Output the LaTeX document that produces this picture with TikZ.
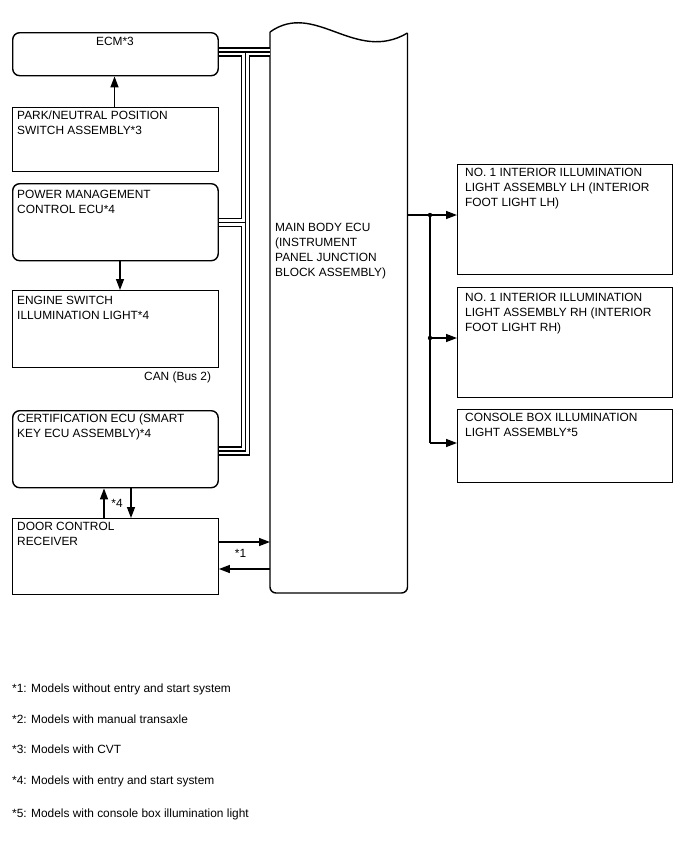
\documentclass[tikz,border=0pt]{standalone}
\usepackage{fontspec}
\setmainfont{Liberation Sans}
\usetikzlibrary{arrows.meta}
\begin{document}
\begin{tikzpicture}[x=1pt,y=-1pt,
  box/.style={draw, line width=1.4pt, inner sep=0pt, anchor=north west},
  rbox/.style={box, rounded corners=7pt},
  txt/.style={inner sep=0pt, anchor=north west, align=left, font=\fontsize{11.9}{15}\selectfont},
  lbl/.style={inner sep=0pt, font=\fontsize{11.9}{15}\selectfont},
  arr/.style={-{Triangle[length=11pt,width=8pt]}, line width=1.4pt},
  wire/.style={line width=1.4pt},
  bus/.style={line width=9.6pt, line join=miter,
    postaction={draw, white, line width=6.2pt},
    postaction={draw, black, line width=1.6pt}}]
\useasboundingbox (0,0) rectangle (688,852);

% left column boxes
\node[rbox, minimum width=205.5pt, minimum height=43pt] (ecm) at (12,32) {};
\node[box,  minimum width=205.5pt, minimum height=64pt] (park) at (12,107) {};
\node[rbox, minimum width=205.5pt, minimum height=77pt] (power) at (12,183) {};
\node[box,  minimum width=205.5pt, minimum height=77pt] (engine) at (12,290) {};
\node[rbox, minimum width=205.5pt, minimum height=77pt] (cert) at (12,410) {};
\node[box,  minimum width=205.5pt, minimum height=76pt] (door) at (12,518) {};

% right column boxes
\node[box, minimum width=215pt, minimum height=110pt] (lh) at (457,164) {};
\node[box, minimum width=215pt, minimum height=110pt] (rh) at (457,287) {};
\node[box, minimum width=215pt, minimum height=73pt] (console) at (457,409) {};

% main body ECU
\node[inner sep=0pt, minimum width=137.5pt, minimum height=561pt, anchor=north west] (mbe) at (270,32) {};
\draw[wire, rounded corners=6pt] (270,32) -- (270,593) -- (407.5,593) -- (407.5,33);
\draw[wire] (270,32) .. controls (315,0) and (355,64) .. (407.5,33);

% texts
\node[lbl, anchor=north] (ecmt) at (115,37) {ECM*3};
\node[txt] (parkt) at (17,111) {PARK/NEUTRAL POSITION\\SWITCH ASSEMBLY*3};
\node[txt] (powert) at (17,190) {POWER MANAGEMENT\\CONTROL ECU*4};
\node[txt] (enginet) at (17,296) {ENGINE SWITCH\\ILLUMINATION LIGHT*4};
\node[lbl, anchor=base west] (can) at (144,380) {CAN (Bus 2)};
\node[txt] (certt) at (17,414) {CERTIFICATION ECU (SMART\\KEY ECU ASSEMBLY)*4};
\node[txt] (doort) at (17,522) {DOOR CONTROL\\RECEIVER};
\node[txt] (mbet) at (275,223) {MAIN BODY ECU\\(INSTRUMENT\\PANEL JUNCTION\\BLOCK ASSEMBLY)};
\node[txt] (lht) at (465,168) {NO. 1 INTERIOR ILLUMINATION\\LIGHT ASSEMBLY LH (INTERIOR\\FOOT LIGHT LH)};
\node[txt] (rht) at (465,292.5) {NO. 1 INTERIOR ILLUMINATION\\LIGHT ASSEMBLY RH (INTERIOR\\FOOT LIGHT RH)};
\node[txt] (consolet) at (465,413) {CONSOLE BOX ILLUMINATION\\LIGHT ASSEMBLY*5};

% CAN bus
\coordinate (bt) at (245.5,52);
\coordinate (bp) at (245.5,222.5);
\coordinate (bc) at (245.5,451);
\draw[bus] (ecm.east |- bt) -- (mbe.west |- bt)
  (bt) -- (bc) -- (cert.east |- bc)
  (bp) -- (power.east |- bp);

% left arrows
\coordinate (a1) at (114.5,0);
\coordinate (a2) at (120,0);
\coordinate (a3) at (104,0);
\coordinate (a4) at (131,0);
\draw[arr] (park.north -| a1) -- (ecm.south -| a1);
\draw[arr] (power.south -| a2) -- (engine.north -| a2);
\draw[arr] (door.north -| a3) -- (cert.south -| a3);
\draw[arr] (cert.south -| a4) -- (door.north -| a4);
\node[lbl] (s4) at (117,503) {*4};

\coordinate (d1) at (0,542);
\coordinate (d2) at (0,569);
\draw[arr] (door.east |- d1) -- (mbe.west |- d1);
\draw[arr] (mbe.west |- d2) -- (door.east |- d2);
\node[lbl] (s1) at (240.5,553) {*1};

% right side
\coordinate (j1) at (430,215);
\coordinate (j2) at (430,338);
\coordinate (j3) at (430,443);
\draw[arr] (mbe.east |- j1) -- (lh.west |- j1);
\draw[wire] (j1) -- (j3);
\draw[arr] (j2) -- (rh.west |- j2);
\draw[arr] (j3) -- (console.west |- j3);
\fill (j1) circle (2.2pt);
\fill (j2) circle (2.2pt);

% footnotes
\node[lbl, anchor=base west] (f1) at (12,692) {*1: Models without entry and start system};
\node[lbl, anchor=base west] (f2) at (12,723) {*2: Models with manual transaxle};
\node[lbl, anchor=base west] (f3) at (12,753) {*3: Models with CVT};
\node[lbl, anchor=base west] (f4) at (12,784) {*4: Models with entry and start system};
\node[lbl, anchor=base west] (f5) at (12,817) {*5: Models with console box illumination light};
\end{tikzpicture}
\end{document}
